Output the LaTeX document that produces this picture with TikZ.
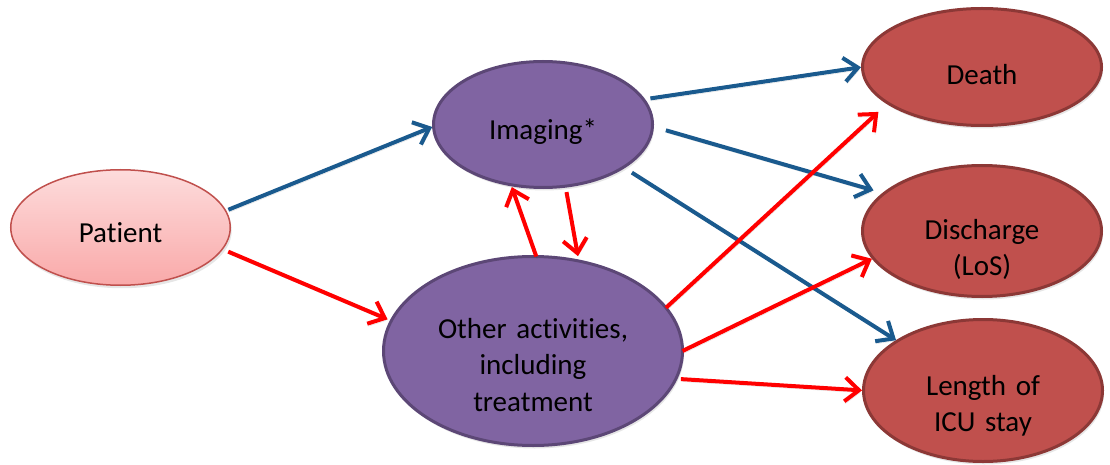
\documentclass[tikz,border=0pt]{standalone}
\usepackage{fontspec}
\setmainfont{Carlito}[Ligatures=NoCommon]
\usetikzlibrary{arrows.meta,shadows,shapes.geometric}

\definecolor{pinkTop}{HTML}{FDDCDC}
\definecolor{pinkBot}{HTML}{F9A9A9}
\definecolor{pinkLine}{HTML}{C0504D}
\definecolor{purpFill}{HTML}{8064A2}
\definecolor{purpLine}{HTML}{5C4776}
\definecolor{redFill}{HTML}{C0504D}
\definecolor{redLine}{HTML}{8C3836}
\definecolor{blueArr}{HTML}{1A5A8E}
\definecolor{redArr}{HTML}{FF0000}

\begin{document}
\begin{tikzpicture}[x=1pt,y=-1pt,
  ell/.style={ellipse, inner sep=0pt, outer sep=0pt,
    font=\fontsize{29}{36.5}\selectfont, text depth=0pt,
    drop shadow={shadow xshift=1.5pt, shadow yshift=-3pt, opacity=0.2}},
  purp/.style={ell, fill=purpFill, draw=purpLine, line width=3pt},
  outc/.style={ell, fill=redFill, draw=redLine, line width=3pt},
  arr/.style={line width=4pt, -{Straight Barb[length=14pt,width=24pt]},
    preaction={draw=black, opacity=0.13, transform canvas={xshift=1pt, yshift=-2.5pt}}},
  barr/.style={arr, draw=blueArr},
  rarr/.style={arr, draw=redArr}]

\useasboundingbox (0,0) rectangle (1110,465);

\node[ell, top color=pinkTop, bottom color=pinkBot, draw=pinkLine, line width=1.5pt,
      minimum width=219.5pt, minimum height=115.5pt, text height=29pt] (P) at (120.5,227.5) {Patient};
\node[purp, minimum width=219pt, minimum height=126pt, text height=31pt] (I) at (543,124.5) {Imaging*};
\node[purp, minimum width=299pt, minimum height=189pt, text width=200pt, align=center,
      text height=0pt, text depth=26pt] (O) at (533,351) {Other activities,\\ including\\ treatment};
\node[outc, minimum width=239pt, minimum height=117pt, text height=36pt] (D) at (982,67) {Death};
\node[outc, minimum width=239pt, minimum height=131pt, text width=150pt, align=center,
      text height=16pt] (C) at (982,231) {Discharge\\ (LoS)};
\node[outc, minimum width=239pt, minimum height=142pt, text width=150pt, align=center,
      text height=9pt] (L) at (983,390.5) {Length of\\ ICU stay};

% blue connectors
\draw[barr, shorten <=3pt, shorten >=1.5pt] (P.9) -- (I.181);
\draw[barr, shorten <=7pt, shorten >=1.5pt] (I.14) -- (D.180);
\draw[barr, shorten <=14pt, shorten >=11pt] (I.-1) -- (C.159);
\draw[barr, shorten <=10pt, shorten >=1.5pt] (I.-28) -- (L.150);
% red connectors
\draw[rarr, shorten <=6.5pt, shorten >=4pt] (P.-12) -- (O.168);
\draw[rarr, shorten >=2.5pt] (O.88) -- (I.242);
\draw[rarr, shorten <=6pt, shorten >=5pt] (I.-70) -- (O.63);
\draw[rarr, shorten >=13pt] (O.18) -- (D.201);
\draw[rarr, shorten >=1.5pt] (O.0) -- (C.194);
\draw[rarr, shorten <=5pt, shorten >=1.5pt] (O.-11) -- (L.180);
\end{tikzpicture}
\end{document}
